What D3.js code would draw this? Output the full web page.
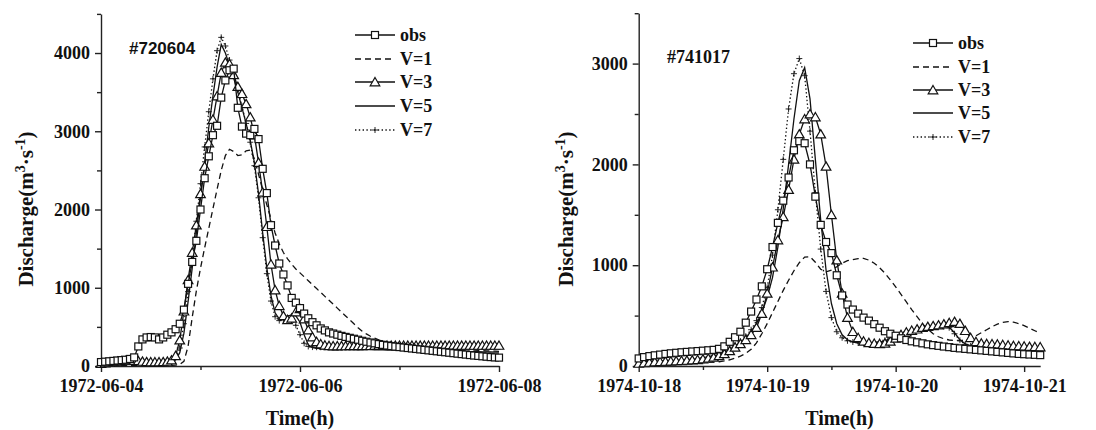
<!DOCTYPE html>
<html><head><meta charset="utf-8">
<script src="https://cdn.jsdelivr.net/npm/d3@7"></script>
<style>body{margin:0;background:#fff}svg{display:block}</style>
</head><body>
<svg id="chart" width="1096" height="430"></svg>
<script>
// ---------- DATA (hourly values, m3/s) ----------
const seriesNames = ["obs", "V=1", "V=3", "V=5", "V=7"];

// Event #720604 : hourly from 1972-06-04 00:00
const startL = "1972-06-04";
const obsL = [50,55,60,65,70,75,80,90,110,250,
  340,365,370,365,340,365,400,430,470,540,
  720,1050,1330,1600,2000,2400,2680,2950,3070,3430,
  3650,3780,3800,3300,3060,2970,2950,3030,2900,2520,
  2210,1800,1540,1310,1170,1030,870,810,740,670,
  610,560,520,480,455,430,415,400,385,372,
  360,348,336,322,310,300,290,280,270,262,
  255,248,242,236,230,224,218,212,206,200,
  194,188,182,176,170,164,158,152,146,140,
  134,129,124,119,114,110,107];
const v1L = [5,5,5,5,5,5,5,5,5,5,
  5,5,5,5,5,5,5,8,12,20,
  60,250,620,960,1250,1510,1760,2010,2260,2500,
  2690,2770,2740,2690,2700,2750,2760,2650,2450,2250,
  2060,1880,1700,1560,1450,1370,1300,1240,1190,1140,
  1090,1040,990,940,890,840,790,740,690,640,
  590,540,490,445,410,380,355,335,318,302,
  290,280,272,265,259,254,250,246,242,238,
  234,230,227,224,221,218,215,212,209,206,
  203,200,197,194,192,190,188];
const v3L = [30,38,45,52,58,63,68,72,70,65,
  58,52,50,50,50,52,58,75,130,330,
  700,1100,1450,1800,2200,2550,2850,3150,3450,3750,
  3880,3860,3720,3570,3480,3350,3180,2950,2600,2220,
  1780,1300,970,770,640,590,610,690,730,600,
  460,370,310,280,265,258,255,255,256,256,
  257,257,258,258,259,259,260,260,260,261,
  261,261,262,262,262,262,262,262,262,262,
  262,262,262,262,262,262,262,262,262,262,
  262,262,262,262,262,262,262];
const v5L = [20,20,22,22,24,24,25,25,25,25,
  25,25,25,25,26,28,32,45,80,170,
  420,820,1250,1700,2150,2600,3050,3450,3820,4110,
  4000,3840,3680,3500,3300,3100,2880,2600,2200,1700,
  1250,900,680,600,610,640,650,640,560,400,
  270,235,225,222,220,218,217,216,215,214,
  213,212,211,210,209,208,207,206,205,204,
  203,202,201,200,199,198,197,196,195,194,
  193,192,191,190,189,188,187,186,185,184,
  183,182,181,180,179,178,177];
const v7L = [40,48,55,62,70,76,82,86,84,78,
  70,62,56,52,50,52,56,70,110,230,
  540,950,1400,1850,2330,2800,3250,3670,4030,4200,
  4090,3910,3730,3530,3320,3100,2860,2560,2150,1640,
  1180,830,630,580,590,610,600,520,400,290,
  250,242,240,240,240,240,240,240,240,240,
  240,240,241,241,241,242,242,242,243,243,
  243,243,244,244,244,244,244,245,245,245,
  245,245,245,245,245,245,245,245,245,245,
  245,245,245,245,245,245,245];

// Event #741017 : hourly from 1974-10-18 00:00
const startR = "1974-10-18";
const obsR = [75,88,98,106,113,120,126,131,136,140,
  144,148,152,156,160,170,195,240,285,340,
  430,540,660,790,960,1180,1420,1640,1870,2140,
  2230,2210,2000,1680,1400,1230,1120,900,700,610,
  560,520,480,450,415,380,345,320,300,275,
  258,245,235,225,215,207,200,193,187,180,
  175,170,165,160,155,150,145,140,135,130,
  125,120,117,114,111,108];
const v1R = [10,12,14,16,18,20,22,24,26,28,
  30,32,34,36,38,42,50,62,78,98,
  125,165,230,320,420,530,640,750,850,945,
  1025,1080,1085,1030,960,935,950,985,1020,1045,
  1055,1065,1068,1050,1020,975,920,855,785,710,
  635,560,490,420,365,320,290,270,258,252,
  250,258,275,300,330,360,390,415,432,440,
  435,420,400,375,350,325];
const v3R = [25,30,35,40,42,45,47,50,52,55,
  58,62,68,75,85,100,120,150,185,220,
  260,310,380,520,720,980,1250,1480,1750,2050,
  2300,2450,2500,2470,2300,1980,1500,1050,720,480,
  340,280,245,230,222,220,225,245,275,310,
  335,352,365,380,390,398,405,415,428,440,
  420,350,280,240,225,220,218,215,210,205,
  200,198,195,192,190,188];
const v5R = [30,32,34,36,38,40,42,45,48,52,
  56,62,70,80,95,112,135,160,195,235,
  280,340,420,530,680,880,1180,1560,2000,2450,
  2830,2960,2650,2050,1450,950,620,420,310,260,
  240,230,225,222,225,235,250,270,295,320,
  340,355,365,372,378,385,390,395,385,330,
  260,220,200,190,185,180,177,175,172,170,
  168,165,162,160,158,155];
const v7R = [40,42,44,46,48,50,52,55,58,62,
  66,72,80,90,105,122,145,172,205,245,
  295,360,450,580,780,1100,1550,2050,2550,2900,
  3050,2880,2330,1720,1160,740,480,340,280,250,
  238,230,225,225,230,240,255,275,300,322,
  340,352,362,370,376,382,388,392,380,320,
  255,215,198,188,183,178,175,173,170,168,
  166,164,161,159,157,154];

// tick labels
const xTicksL = ["1972-06-04", "1972-06-06", "1972-06-08"];
const xMinorL = ["1972-06-05", "1972-06-07"];
const xTicksR = ["1974-10-18", "1974-10-19", "1974-10-20", "1974-10-21"];
const xMinorR = ["1974-10-18T12", "1974-10-19T12", "1974-10-20T12"];
const yTicksL = [0, 1000, 2000, 3000, 4000];
const yMinorL = [500, 1500, 2500, 3500, 4500];
const yTicksR = [0, 1000, 2000, 3000];
const yMinorR = [500, 1500, 2500, 3500];

// ---------- DRAWING ----------
const svg = d3.select("#chart");
const SERIF = "'Liberation Serif','Times New Roman',serif";
const SANS = "'Liberation Sans',Arial,sans-serif";
const INK = "#111";
const parseDay = d3.utcParse("%Y-%m-%d");
const parseHr = d3.utcParse("%Y-%m-%dT%H");
const fmtDay = d3.utcFormat("%Y-%m-%d");

const styles = {
  "obs": {dash: null, marker: "square"},
  "V=1": {dash: "6,4", marker: null},
  "V=3": {dash: null, marker: "triangle"},
  "V=5": {dash: null, marker: null},
  "V=7": {dash: "1.4,2.4", marker: "plus"}
};
const drawOrder = ["V=1", "V=5", "V=7", "V=3", "obs"];

function marker(g, type, cx, cy) {
  if (type === "square") {
    g.append("rect").attr("x", cx - 3.5).attr("y", cy - 3.5).attr("width", 7).attr("height", 7)
      .attr("fill", "#fff").attr("stroke", INK).attr("stroke-width", 1.2);
  } else if (type === "triangle") {
    g.append("path").attr("d", d3.symbol(d3.symbolTriangle, 40)())
      .attr("transform", `translate(${cx},${cy + 1})`)
      .attr("fill", "#fff").attr("stroke", INK).attr("stroke-width", 1.2);
  } else if (type === "plus") {
    g.append("path").attr("d", "M-3,0H3M0,-3V3").attr("transform", `translate(${cx},${cy})`)
      .attr("fill", "none").attr("stroke", INK).attr("stroke-width", 0.9);
  }
}

function panel(cfg) {
  const g = svg.append("g");
  const t0 = parseDay(cfg.start);
  const x = d3.scaleUtc().domain([t0, new Date(t0.getTime() + cfg.spanHours * 3600e3)])
    .range([cfg.x0, cfg.x1]);
  const y = d3.scaleLinear().domain([0, cfg.yMax]).range([366, cfg.yTop]);
  const timeOf = i => new Date(t0.getTime() + i * 3600e3);

  // axes
  g.append("g").attr("transform", "translate(0,366)")
    .call(d3.axisBottom(x).tickValues(cfg.xTicks.map(parseDay)).tickFormat(fmtDay)
      .tickSize(6).tickPadding(7).tickSizeOuter(0));
  g.append("g").attr("transform", "translate(0,366)")
    .call(d3.axisBottom(x).tickValues(cfg.xMinor).tickFormat("").tickSize(4).tickSizeOuter(0))
    .select(".domain").remove();
  g.append("g").attr("transform", `translate(${cfg.x0},0)`)
    .call(d3.axisLeft(y).tickValues(cfg.yTicks).tickFormat(d3.format("d"))
      .tickSize(6).tickPadding(5).tickSizeOuter(0));
  g.append("g").attr("transform", `translate(${cfg.x0},0)`)
    .call(d3.axisLeft(y).tickValues(cfg.yMinor).tickFormat("").tickSize(4).tickSizeOuter(0))
    .select(".domain").remove();
  g.selectAll(".domain, .tick line").attr("stroke", "#222").attr("stroke-width", 1.4);
  g.selectAll(".tick text").attr("font-family", SERIF).attr("font-weight", "bold")
    .attr("font-size", 18).attr("fill", INK);

  // series
  const line = d3.line().x((d, i) => x(timeOf(i))).y(d => y(d));
  drawOrder.forEach(name => {
    const vals = cfg.data[name];
    const st = styles[name];
    g.append("path").datum(vals).attr("d", line).attr("fill", "none")
      .attr("stroke", INK).attr("stroke-width", 1.3)
      .attr("stroke-dasharray", st.dash);
    if (st.marker) {
      const mg = g.append("g");
      vals.forEach((v, i) => marker(mg, st.marker, x(timeOf(i)), y(v)));
    }
  });

  // legend
  const lg = g.append("g");
  seriesNames.forEach((name, k) => {
    const ly = cfg.legY[k];
    const st = styles[name];
    lg.append("line").attr("x1", cfg.legX).attr("x2", cfg.legX + 40).attr("y1", ly).attr("y2", ly)
      .attr("stroke", INK).attr("stroke-width", 1.3).attr("stroke-dasharray", st.dash);
    if (st.marker) marker(lg, st.marker, cfg.legX + 20, ly);
    lg.append("text").attr("x", cfg.legX + 45).attr("y", ly + 6).text(name)
      .attr("font-family", SERIF).attr("font-weight", "bold").attr("font-size", 18).attr("fill", INK);
  });

  // event label
  g.append("text").attr("x", cfg.tagX).attr("y", cfg.tagY).text(cfg.tag)
    .attr("font-family", cfg.tagFont).attr("font-weight", "bold").attr("font-size", cfg.tagSize).attr("fill", INK);

  // axis titles
  g.append("text").attr("x", (cfg.x0 + cfg.x1) / 2).attr("y", 425).attr("text-anchor", "middle")
    .attr("font-family", SERIF).attr("font-weight", "bold").attr("font-size", 20).attr("fill", INK)
    .text("Time(h)");
  const yt = g.append("text").attr("transform", `translate(${cfg.yLabX},209) rotate(-90)`)
    .attr("text-anchor", "middle").attr("font-family", SERIF).attr("font-weight", "bold")
    .attr("font-size", 21).attr("fill", INK);
  yt.append("tspan").text("Discharge(m");
  yt.append("tspan").attr("dy", -8).attr("font-size", 14).text("3");
  yt.append("tspan").attr("dy", 8).text("·s");
  yt.append("tspan").attr("dy", -8).attr("font-size", 14).text("-1");
  yt.append("tspan").attr("dy", 8).text(")");
}

panel({
  start: startL, spanHours: 96, x0: 101, x1: 499, yMax: 4500, yTop: 13.9,
  xTicks: xTicksL, xMinor: xMinorL.map(parseDay), yTicks: yTicksL, yMinor: yMinorL,
  data: {"obs": obsL, "V=1": v1L, "V=3": v3L, "V=5": v5L, "V=7": v7L},
  legX: 355, legY: [35, 59, 82, 106, 130],
  tag: "#720604", tagX: 129, tagY: 54, tagFont: SANS, tagSize: 17,
  yLabX: 33
});
panel({
  start: startR, spanHours: 75, x0: 638.7, x1: 1040.2, yMax: 3500, yTop: 13.2,
  xTicks: xTicksR, xMinor: xMinorR.map(parseHr), yTicks: yTicksR, yMinor: yMinorR,
  data: {"obs": obsR, "V=1": v1R, "V=3": v3R, "V=5": v5R, "V=7": v7R},
  legX: 913, legY: [43, 67, 90, 113, 137],
  tag: "#741017", tagX: 667, tagY: 63, tagFont: SERIF, tagSize: 18,
  yLabX: 573
});
</script>
</body></html>
